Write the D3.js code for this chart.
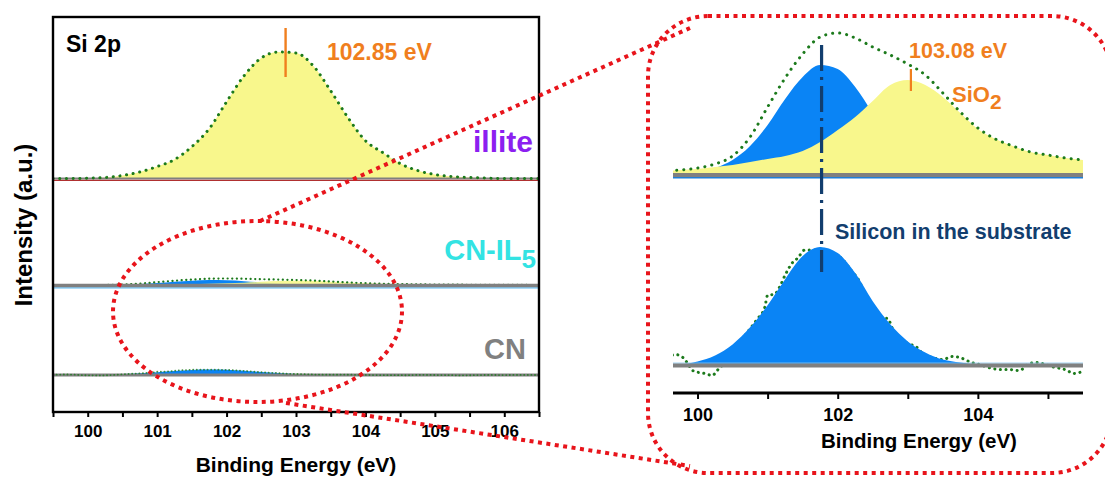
<!DOCTYPE html>
<html><head><meta charset="utf-8">
<script src="https://cdn.jsdelivr.net/npm/d3@7"></script>
<style>
body{margin:0;background:#fff}
svg{display:block}
text{font-family:"Liberation Sans",Arial,Helvetica,sans-serif;font-weight:bold}
</style>
</head><body>
<svg id="c" width="1105" height="482"></svg>
<script>
// ---------------- DATA ----------------
const energy = [99.5,99.75,100,100.25,100.5,100.75,101,101.25,101.5,101.75,102,102.25,102.5,102.75,103,103.25,103.5,103.75,104,104.25,104.5,104.75,105,105.25,105.5,105.75,106,106.25,106.5];
// illite (SiO2 at 102.85 eV)
const illiteRaw   = [0,0,0.3,1,3,6.5,12,19,32,50,77,103,121,127,126,113,88,61,38,26,15,8,4,2,1,0.5,0,0,0];
const illiteSiO2  = [0,0,0.3,1,3,6.5,12,19,32,50,77,103,121,127,126,113,88,61,38,26,15,8,4,2,1,0.5,0,0,0];
// CN-IL5
const cnil5Substrate = [0.5,1,3,7,15,29,50,76,98,110,106,88,62,38,20,9,4,1.5,0.5,0,0,0,0,0,0,0,0,0,0];
const cnil5SiO2      = [4,5,6,8,10,13,16,19,24,33,45,58,74,90,95,90,78,62,46,36,29,23,20,17,15,13,12,11,10];
const cnil5Raw       = [4,5,7,11,19,38,68,97,121,138,142,137,128,120,111,100,82,63,47,36,29,23,20,17,15,13,12,11,10];
// CN
const cnSubstrate = [0.5,1,4,10,21,38,60,86,109,118,112,92,64,41,24,13,6,3,1,0.5,0,0,0,0,0,0,0,0,0];
const cnRawEnergy    = [99.5,99.6,99.68,99.79,99.85,99.93,100.02,100.11,100.21,100.28,100.4,100.55,100.7,100.85,100.96,101.0,101.1,101.17,101.25,101.35,101.43,101.53,101.65,101.77,101.9,102.05,102.2,102.3,102.41,102.52,102.64,102.71,102.78,102.85,103.0,103.13,103.21,103.35,103.5,103.64,103.74,103.91,104.02,104.21,104.31,104.45,104.59,104.74,104.84,104.92,105.05,105.18,105.28,105.35,105.45,105.6,105.8,106.0,106.2,106.5];
const cnRawIntensity = [5,9,11,8,3,-5,-7,-8,-10,-5,4,18,32,46,58,70,71,78,90,102,107,115,115,116,113,107,94,85,68,58,47,47,37,28,22,18,12,8,6,9,8,3,1,-3,-4,-4,-5,2,3,2,-1,-3,-5,-8,-7,-2,1,-2,2,0];

const leftMajorTicks = [100,101,102,103,104,105,106];
const leftMinorTicks = [99.5,100.5,101.5,102.5,103.5,104.5,105.5,106.5];
const rightMajorTicks = [100,102,104];
const rightMinorTicks = [101,103,105];

const peakIllite = 102.85, peakIllitLabel = "102.85 eV";
const peakSiO2 = 103.03, peakSiO2Label = "103.08 eV";
const substratePeak = 101.77;

// ---------------- STYLE ----------------
const C = {yellow:"#F8F78C", blue:"#0A84F5", green:"#1C7A1C", gray:"#808080", red:"#E8141B",
           orange:"#F07F1E", navy:"#123E6E", purple:"#8C1FF0", cyan:"#33E3E3", darkred:"#B03030"};

const svg = d3.select("#c");
const defs = svg.append("defs");
defs.append("clipPath").attr("id","clipL").append("rect").attr("x",53).attr("y",17).attr("width",486).attr("height",395);
defs.append("clipPath").attr("id","clipR").append("rect").attr("x",673).attr("y",0).attr("width",410).attr("height",390);

// scales
const xL = d3.scaleLinear().domain([99.5,106.5]).range([53,539]);
const yIlliteL = d3.scaleLinear().domain([0,127]).range([178.5,52]);
const yIL5L = d3.scaleLinear().domain([0,142]).range([285.5,278.5]);
const yCNL = d3.scaleLinear().domain([0,118]).range([375,369.5]);

const xR = d3.scaleLinear().domain([99.65,105.5]).range([673,1083]);
const yIL5R = d3.scaleLinear().domain([0,142]).range([175,33]);
const yCNR = d3.scaleLinear().domain([0,118]).range([365.5,247]);

function zipE(vals){ return energy.map((e,i)=>[e,vals[i]]); }
function area(x,y){ return d3.area().x(d=>x(d[0])).y0(y(0)).y1(d=>y(d[1])).curve(d3.curveMonotoneX); }
function line(x,y,curve){ return d3.line().x(d=>x(d[0])).y(d=>y(d[1])).curve(curve||d3.curveMonotoneX); }
const cnRaw = cnRawEnergy.map((e,i)=>[e,cnRawIntensity[i]]);

// ---------------- LEFT PANEL ----------------
const gL = svg.append("g").attr("clip-path","url(#clipL)");

// illite
gL.append("path").datum(zipE(illiteSiO2)).attr("d",area(xL,yIlliteL)).attr("fill",C.yellow);
gL.append("line").attr("x1",53).attr("x2",539).attr("y1",yIlliteL(0)).attr("y2",yIlliteL(0)).attr("stroke",C.gray).attr("stroke-width",2.2);
gL.append("line").attr("x1",53).attr("x2",539).attr("y1",yIlliteL(0)+1.8).attr("y2",yIlliteL(0)+1.8).attr("stroke",C.darkred).attr("stroke-width",1.2);
gL.append("path").datum(zipE(illiteRaw)).attr("d",line(xL,yIlliteL)).attr("fill","none")
  .attr("stroke",C.green).attr("stroke-width",3).attr("stroke-linecap","round").attr("stroke-dasharray","0.1,6.6");

// CN-IL5
gL.append("path").datum(zipE(cnil5Substrate)).attr("d",area(xL,yIL5L)).attr("fill",C.blue);
gL.append("path").datum(zipE(cnil5SiO2)).attr("d",area(xL,yIL5L)).attr("fill",C.yellow).attr("opacity",0.9);
gL.append("path").datum(zipE(cnil5Raw)).attr("d",line(xL,yIL5L)).attr("fill","none")
  .attr("stroke",C.green).attr("stroke-width",2.2).attr("stroke-linecap","round").attr("stroke-dasharray","0.1,4.5");
gL.append("line").attr("x1",53).attr("x2",539).attr("y1",yIL5L(0)+2.4).attr("y2",yIL5L(0)+2.4).attr("stroke","#5BB8F0").attr("stroke-width",1.2);
gL.append("line").attr("x1",53).attr("x2",539).attr("y1",yIL5L(0)).attr("y2",yIL5L(0)).attr("stroke",C.gray).attr("stroke-width",3.6);

// CN
gL.append("path").datum(zipE(cnSubstrate)).attr("d",area(xL,yCNL)).attr("fill",C.blue);
gL.append("line").attr("x1",53).attr("x2",539).attr("y1",yCNL(0)).attr("y2",yCNL(0)).attr("stroke",C.gray).attr("stroke-width",3);
gL.append("path").datum(cnRaw).attr("d",line(xL,yCNL,d3.curveLinear)).attr("fill","none")
  .attr("stroke",C.green).attr("stroke-width",1.8).attr("stroke-linecap","round").attr("stroke-dasharray","0.1,3.5").attr("opacity",0.8);

// frame
svg.append("rect").attr("x",53).attr("y",17).attr("width",486).attr("height",395)
  .attr("fill","none").attr("stroke","#000").attr("stroke-width",2.4);

// axes
function styleAxis(g,size){
  g.select(".domain").remove();
  g.selectAll(".tick line").attr("stroke","#000").attr("stroke-width",2);
  g.selectAll(".tick text").attr("font-size",size).attr("font-family","'Liberation Sans',Arial,sans-serif")
   .attr("font-weight","bold").attr("fill","#000");
}
const axL = svg.append("g").attr("transform","translate(0,412)")
  .call(d3.axisBottom(xL).tickValues(leftMajorTicks).tickSize(5).tickPadding(8).tickFormat(d3.format("d")));
styleAxis(axL,17);
const axLm = svg.append("g").attr("transform","translate(0,412)")
  .call(d3.axisBottom(xL).tickValues(leftMinorTicks).tickSize(5).tickFormat(""));
styleAxis(axLm,17);

// left texts
svg.append("text").attr("x",66).attr("y",52).attr("font-size",23).attr("fill","#000").text("Si 2p");
svg.append("line").attr("x1",xL(peakIllite)).attr("x2",xL(peakIllite)).attr("y1",28).attr("y2",77)
  .attr("stroke",C.orange).attr("stroke-width",2.4);
svg.append("text").attr("x",327).attr("y",60).attr("font-size",23).attr("fill",C.orange).text(peakIllitLabel);
svg.append("text").attr("x",533).attr("y",152).attr("font-size",30).attr("text-anchor","end").attr("fill",C.purple).text("illite");
const t5 = svg.append("text").attr("x",536).attr("y",260).attr("text-anchor","end").attr("fill",C.cyan);
t5.append("tspan").attr("font-size",29).text("CN-IL");
t5.append("tspan").attr("font-size",26).attr("dy",8).text("5");
svg.append("text").attr("x",526).attr("y",359).attr("font-size",29).attr("text-anchor","end").attr("fill",C.gray).text("CN");
svg.append("text").attr("transform","translate(32,225) rotate(-90)").attr("text-anchor","middle")
  .attr("font-size",24).attr("fill","#000").text("Intensity (a.u.)");
svg.append("text").attr("x",296).attr("y",472).attr("text-anchor","middle").attr("font-size",21).attr("fill","#000").text("Binding Energy (eV)");

// ---------------- RIGHT PANEL ----------------
const gR = svg.append("g").attr("clip-path","url(#clipR)");
// upper (CN-IL5 zoom)
gR.append("path").datum(zipE(cnil5Substrate)).attr("d",area(xR,yIL5R)).attr("fill",C.blue);
gR.append("path").datum(zipE(cnil5SiO2)).attr("d",area(xR,yIL5R)).attr("fill",C.yellow);
gR.append("path").datum(zipE(cnil5Raw)).attr("d",line(xR,yIL5R)).attr("fill","none")
  .attr("stroke",C.green).attr("stroke-width",3).attr("stroke-linecap","round").attr("stroke-dasharray","0.1,7");
gR.append("line").attr("x1",673).attr("x2",1083).attr("y1",yIL5R(0)+2.6).attr("y2",yIL5R(0)+2.6).attr("stroke","#1E7FD8").attr("stroke-width",1.6);
gR.append("line").attr("x1",673).attr("x2",1083).attr("y1",yIL5R(0)).attr("y2",yIL5R(0)).attr("stroke",C.gray).attr("stroke-width",4);

// lower (CN zoom)
gR.append("path").datum(cnRaw).attr("d",line(xR,yCNR)).attr("fill","none")
  .attr("stroke",C.green).attr("stroke-width",3).attr("stroke-linecap","round").attr("stroke-dasharray","0.1,5.5");
gR.append("path").datum(zipE(cnSubstrate)).attr("d",area(xR,yCNR)).attr("fill",C.blue);
gR.append("line").attr("x1",673).attr("x2",1083).attr("y1",yCNR(0)-2.4).attr("y2",yCNR(0)-2.4).attr("stroke","#8CC8F0").attr("stroke-width",1);
gR.append("line").attr("x1",673).attr("x2",1083).attr("y1",yCNR(0)).attr("y2",yCNR(0)).attr("stroke",C.gray).attr("stroke-width",4);

// dash-dot marker line
svg.append("line").attr("x1",xR(substratePeak)).attr("x2",xR(substratePeak)).attr("y1",45).attr("y2",272)
  .attr("stroke",C.navy).attr("stroke-width",3.2).attr("stroke-dasharray","26,6,3,6");

// right axis
svg.append("line").attr("x1",673).attr("x2",1083).attr("y1",393).attr("y2",393).attr("stroke","#000").attr("stroke-width",3);
const axR = svg.append("g").attr("transform","translate(0,393)")
  .call(d3.axisBottom(xR).tickValues(rightMajorTicks).tickSize(6).tickPadding(9).tickFormat(d3.format("d")));
styleAxis(axR,18);
const axRm = svg.append("g").attr("transform","translate(0,393)")
  .call(d3.axisBottom(xR).tickValues(rightMinorTicks).tickSize(6).tickFormat(""));
styleAxis(axRm,18);
svg.append("text").attr("x",919).attr("y",448).attr("text-anchor","middle").attr("font-size",20.5).attr("fill","#000").text("Binding Energy (eV)");

// right texts
svg.append("text").attr("x",909).attr("y",58).attr("font-size",21.5).attr("fill",C.orange).text(peakSiO2Label);
svg.append("line").attr("x1",xR(peakSiO2)+1).attr("x2",xR(peakSiO2)+1).attr("y1",69).attr("y2",91)
  .attr("stroke",C.orange).attr("stroke-width",2.2);
const ts = svg.append("text").attr("x",952).attr("y",102).attr("fill",C.orange);
ts.append("tspan").attr("font-size",22).text("SiO");
ts.append("tspan").attr("font-size",21).attr("dy",7).text("2");
svg.append("text").attr("x",835).attr("y",239).attr("font-size",21.5).attr("fill",C.navy).text("Silicon in the substrate");

// ---------------- RED ZOOM INDICATORS ----------------
const red = svg.append("g").attr("fill","none").attr("stroke",C.red).attr("stroke-width",4).attr("stroke-dasharray","4,4.5");
red.append("ellipse").attr("cx",257.5).attr("cy",311.5).attr("rx",144.5).attr("ry",90.5);
red.append("line").attr("x1",260).attr("y1",221).attr("x2",690).attr("y2",28);
red.append("line").attr("x1",286).attr("y1",403).attr("x2",690).attr("y2",466);
red.append("rect").attr("x",648).attr("y",16).attr("width",464).attr("height",457).attr("rx",60).attr("ry",60);
</script>
</body></html>
